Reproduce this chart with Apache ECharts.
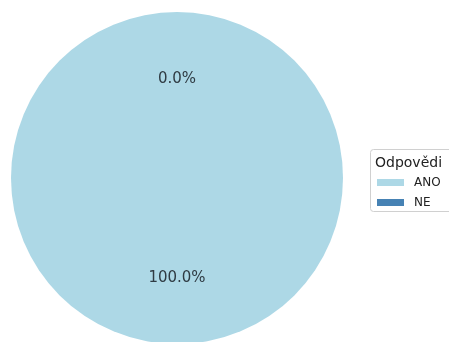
<!DOCTYPE html>
<html>
<head>
<meta charset="utf-8">
<script src="https://cdn.jsdelivr.net/npm/echarts@6/dist/echarts.min.js"></script>
<style>
  html, body { margin: 0; padding: 0; background: #fff; }
  #chart { width: 449px; height: 342px; }
</style>
</head>
<body>
<div id="chart"></div>
<script>
// Answer categories and their counts
const categories = ['ANO', 'NE'];
const values = [100, 0];
const colors = ['#ADD8E6', '#4682B4'];
const legendTitle = 'Odpovědi';

const cx = 177, cy = 178, R = 166;
// percentage labels sit at 0.6 of the radius
const pctDistance = 0.6;

const chart = echarts.init(document.getElementById('chart'), null, { renderer: 'canvas' });

const data = categories.map((name, i) => ({
  name: name,
  value: values[i],
  itemStyle: { color: colors[i] }
}));

chart.setOption({
  animation: false,
  backgroundColor: '#ffffff',
  legend: {
    orient: 'vertical',
    left: 372,
    top: 171,
    itemWidth: 27,
    itemHeight: 7,
    itemGap: 7,
    icon: 'rect',
    data: categories,
    selectedMode: false,
    textStyle: { fontFamily: 'DejaVu Sans', fontSize: 12, color: '#222', lineHeight: 13, padding: [0, 0, 0, 5] }
  },
  graphic: [
    {
      type: 'rect',
      z: -1,
      shape: { x: 370.5, y: 149.5, width: 100, height: 62, r: 3 },
      style: { fill: '#fff', stroke: '#d0d0d0', lineWidth: 1 }
    },
    {
      type: 'text',
      left: 375,
      top: 156,
      style: { text: legendTitle, font: '14px "DejaVu Sans"', fill: '#222' }
    }
  ],
  series: [{
    type: 'pie',
    center: [cx, cy],
    radius: [0, R],
    startAngle: 90,
    clockwise: true,
    avoidLabelOverlap: false,
    silent: true,
    data: data,
    itemStyle: { borderWidth: 0 },
    label: {
      show: true,
      position: 'inside',
      formatter: p => p.percent.toFixed(1) + '%',
      fontFamily: 'DejaVu Sans',
      fontSize: 15,
      color: '#2f3b43'
    },
    labelLine: { show: false },
    labelLayout: function (params) {
      const r = params.labelRect;
      const lx = r.x + r.width / 2;
      const ly = r.y + r.height / 2;
      const dx = lx - cx, dy = ly - cy;
      const d = Math.sqrt(dx * dx + dy * dy) || 1;
      const k = (pctDistance * R) / d;
      return {
        x: cx + dx * k,
        y: cy + dy * k + 1,
        align: 'center',
        verticalAlign: 'middle'
      };
    }
  }]
});
</script>
</body>
</html>
